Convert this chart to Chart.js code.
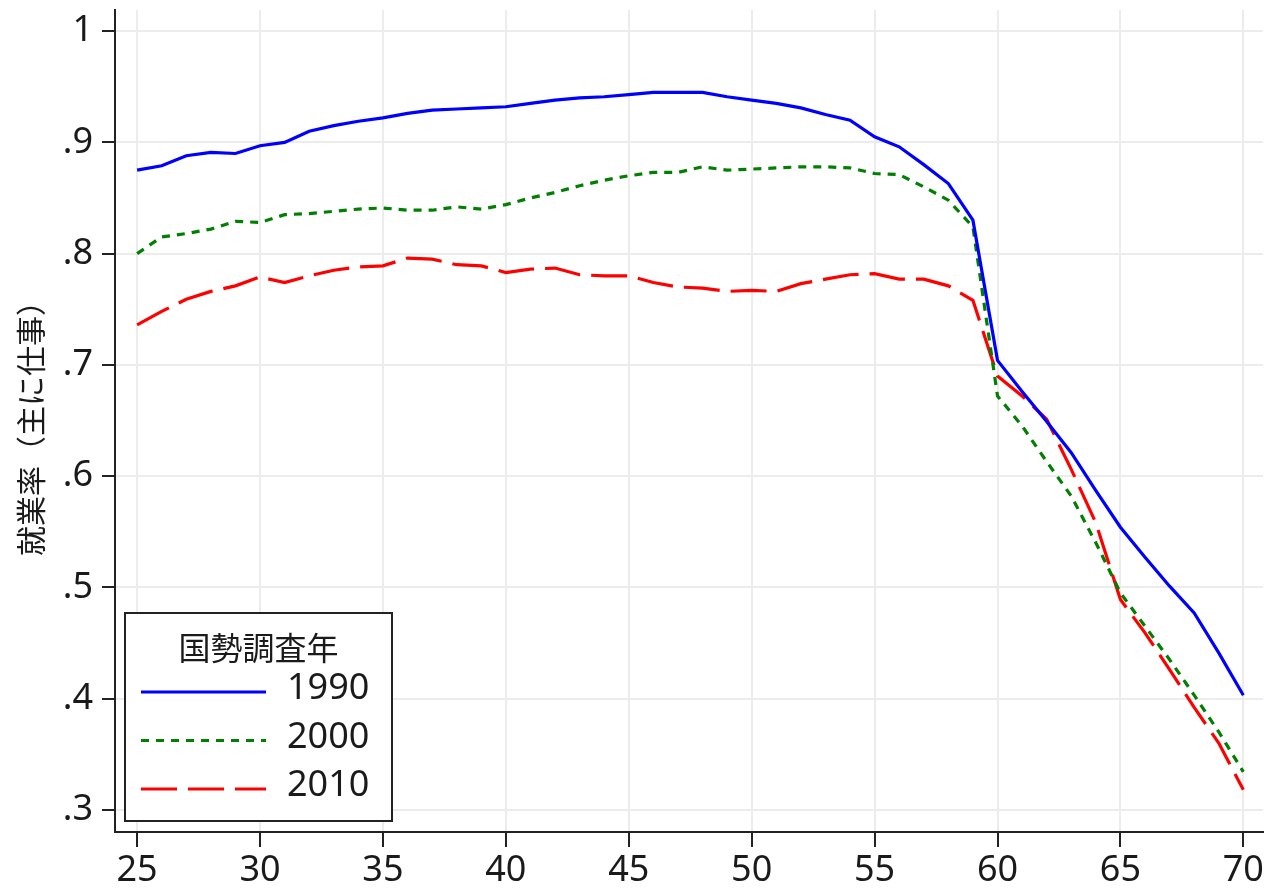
<!DOCTYPE html>
<html>
<head>
<meta charset="utf-8">
<script src="https://cdn.jsdelivr.net/npm/chart.js@4.4.1/dist/chart.umd.min.js"></script>
<style>
html, body { margin: 0; padding: 0; background: #fff; }
#wrap { width: 1283px; height: 891px; }
</style>
</head>
<body>
<div id="wrap"><canvas id="empChart"></canvas></div>
<script>
// 年齢 25〜70
var ages = [25, 26, 27, 28, 29, 30, 31, 32, 33, 34, 35, 36, 37, 38, 39, 40, 41, 42, 43, 44, 45, 46, 47,
            48, 49, 50, 51, 52, 53, 54, 55, 56, 57, 58, 59, 60, 61, 62, 63, 64, 65, 66, 67, 68, 69, 70];

var emp1990 = [.875, .879, .888, .891, .890, .897, .900, .910, .915, .919,
               .922, .926, .929, .930, .931, .932, .935, .938, .940, .941,
               .943, .945, .945, .945, .941, .938, .935, .931, .925, .920,
               .905, .896, .880, .863, .830, .704, .676, .649, .621, .587,
               .554, .527, .501, .477, .441, .403];
var emp2000 = [.800, .815, .818, .822, .829, .828, .835, .836, .838, .840,
               .841, .839, .839, .842, .840, .844, .850, .855, .861, .866,
               .870, .873, .873, .878, .875, .876, .877, .878, .878, .877,
               .872, .871, .860, .848, .824, .672, .645, .613, .582, .540,
               .495, .465, .435, .403, .370, .334];
var emp2010 = [.736, .748, .759, .766, .771, .779, .774, .780, .785, .788,
               .789, .796, .795, .790, .789, .783, .786, .787, .781, .780,
               .780, .774, .770, .769, .766, .767, .766, .773, .777, .781,
               .782, .777, .777, .771, .758, .690, .672, .651, .606, .558,
               .489, .459, .426, .392, .360, .318];

var xTicks = [25, 30, 35, 40, 45, 50, 55, 60, 65, 70];
var yTicks = [.3, .4, .5, .6, .7, .8, .9, 1];
var yTickLabels = ['.3', '.4', '.5', '.6', '.7', '.8', '.9', '1'];
var legendTitle = '国勢調査年';

function pts(vals) {
    return vals.map(function(v, i) { return { x: ages[i], y: v }; });
}

var ink = '#1a1a1a';
var numFont = '"Noto Sans", "Noto Sans CJK JP", sans-serif';
var cjkFont = '"Noto Sans CJK JP", "Noto Sans", sans-serif';

// 凡例（枠付き、プロット左下）
var legendBox = {
    id: 'legendBox',
    afterDatasetsDraw: function(chart) {
        var ctx = chart.ctx, area = chart.chartArea;
        var w = 267, h = 208;
        var left = area.left + 10, top = area.bottom - 11 - h;
        ctx.save();
        ctx.fillStyle = '#fff';
        ctx.fillRect(left, top, w, h);
        ctx.lineWidth = 2;
        ctx.strokeStyle = '#222';
        ctx.strokeRect(left, top, w, h);
        ctx.fillStyle = ink;
        ctx.textBaseline = 'middle';
        ctx.textAlign = 'center';
        ctx.font = '32px ' + cjkFont;
        ctx.fillText(legendTitle, left + w / 2, top + 35);
        ctx.textAlign = 'left';
        ctx.font = '36px ' + numFont;
        chart.data.datasets.forEach(function(ds, i) {
            var yy = top + 79 + i * 48.5;
            ctx.beginPath();
            ctx.setLineDash(ds.borderDash || []);
            ctx.strokeStyle = ds.borderColor;
            ctx.lineWidth = ds.borderWidth;
            ctx.moveTo(left + 16, yy);
            ctx.lineTo(left + 141, yy);
            ctx.stroke();
            ctx.setLineDash([]);
            ctx.fillText(ds.label, left + 162, yy - 3);
        });
        ctx.restore();
    }
};

var ctx = document.getElementById('empChart');
new Chart(ctx, {
    type: 'line',
    data: {
        datasets: [{
            label: '1990',
            data: pts(emp1990),
            borderColor: '#0000ff',
            borderWidth: 3.2,
            pointRadius: 0,
            tension: 0
        }, {
            label: '2000',
            data: pts(emp2000),
            borderColor: '#007f00',
            borderWidth: 3.2,
            borderDash: [8, 7],
            pointRadius: 0,
            tension: 0
        }, {
            label: '2010',
            data: pts(emp2010),
            borderColor: '#ff0000',
            borderWidth: 3.2,
            borderDash: [36, 11],
            pointRadius: 0,
            tension: 0
        }]
    },
    options: {
        responsive: true,
        maintainAspectRatio: false,
        animation: false,
        layout: { autoPadding: false, padding: { top: 10, right: 20, left: 0, bottom: 0 } },
        plugins: { legend: { display: false }, tooltip: { enabled: false } },
        scales: {
            x: {
                type: 'linear',
                min: 24.1,
                max: 70.8,
                afterBuildTicks: function(scale) {
                    scale.ticks = xTicks.map(function(v) { return { value: v }; });
                },
                afterFit: function(scale) {
                    scale.height = 59;
                    scale.paddingLeft = 0;
                    scale.paddingRight = 0;
                },
                grid: { color: '#ececec', lineWidth: 2, tickColor: '#222', tickLength: 15, tickWidth: 2 },
                border: { color: '#222', width: 2 },
                ticks: {
                    autoSkip: false,
                    maxRotation: 0,
                    padding: 2,
                    color: ink,
                    font: { family: numFont, size: 36 },
                    callback: function(v) { return String(v); }
                }
            },
            y: {
                min: 0.28,
                max: 1.019,
                afterBuildTicks: function(scale) {
                    scale.ticks = yTicks.map(function(v) { return { value: v }; });
                },
                afterFit: function(scale) {
                    scale.width = 115;
                    scale.paddingTop = 0;
                    scale.paddingBottom = 0;
                },
                grid: { color: '#ececec', lineWidth: 2, tickColor: '#222', tickLength: 13, tickWidth: 2 },
                border: { color: '#222', width: 2 },
                ticks: {
                    autoSkip: false,
                    padding: 9,
                    color: ink,
                    font: { family: numFont, size: 36 },
                    callback: function(v) {
                        var i = yTicks.indexOf(v);
                        return i >= 0 ? yTickLabels[i] : '';
                    }
                },
                title: {
                    display: true,
                    text: '就業率（主に仕事）',
                    color: ink,
                    font: { family: cjkFont, size: 30, lineHeight: 1.2 },
                    padding: { top: 13, bottom: 0 }
                }
            }
        }
    },
    plugins: [legendBox]
});
</script>
</body>
</html>
